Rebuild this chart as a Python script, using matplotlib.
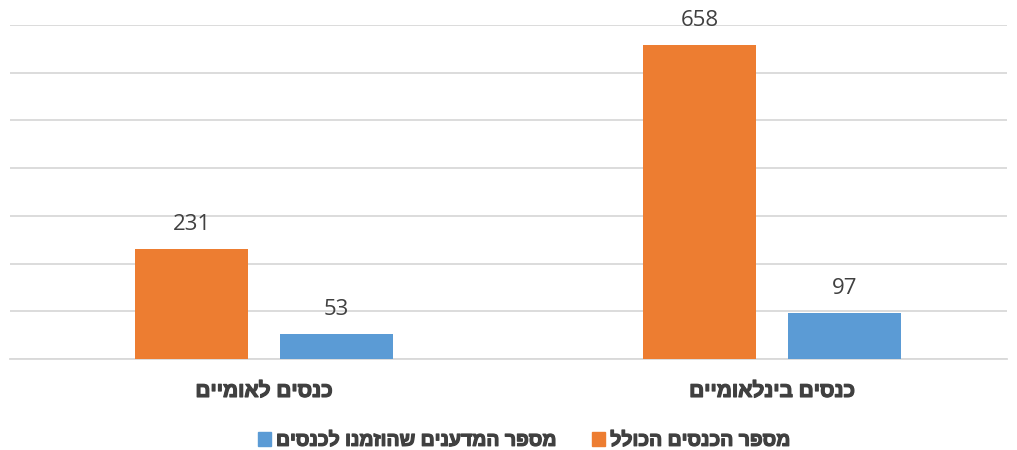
import numpy as np
import matplotlib
matplotlib.use("Agg")
import matplotlib.pyplot as plt
import matplotlib.patheffects as pe
from matplotlib.patches import Patch

categories = ["כנסים לאומיים", "כנסים בינלאומיים"]
series_names = ["מספר הכנסים הכולל", "מספר המדענים שהוזמנו לכנסים"]
total_confs = [231, 658]
invited = [53, 97]
colors = ["#ED7D31", "#5B9BD5"]


def vis(s):
    # matplotlib has no bidi support, so put Hebrew in visual order
    return s[::-1]


plt.rcParams["font.family"] = ["Liberation Sans", "DejaVu Sans"]
thick = [pe.withStroke(linewidth=0.9, foreground="#404040")]

fig = plt.figure(figsize=(10.17, 4.5), dpi=100)
W, H = 1017, 450
ax = fig.add_axes([10 / W, (H - 359) / H, (1007 - 10) / W, (359 - 25) / H])

x = np.arange(len(categories))
width = 0.222
off = 0.142
b1 = ax.bar(x - off, total_confs, width, color=colors[0], zorder=3)
b2 = ax.bar(x + off, invited, width, color=colors[1], zorder=3)

for bars in (b1, b2):
    for r in bars:
        ax.annotate(f"{int(r.get_height())}", (r.get_x() + r.get_width() / 2, r.get_height()),
                    xytext=(0, 10), textcoords="offset points", ha="center", va="bottom",
                    fontsize=16, color="#404040", family=["Open Sans"])

ax.set_ylim(0, 700)
ax.set_xlim(-0.5, 1.4626)
ax.set_yticks(np.arange(0, 701, 100))
ax.yaxis.grid(True, color="#D9D9D9", linewidth=1.3, zorder=0)
ax.tick_params(axis="y", left=False, labelleft=False)
ax.tick_params(axis="x", bottom=False, pad=13)
ax.set_xticks(x)
ax.set_xticklabels([vis(c) for c in categories], fontsize=15, fontweight="bold", color="#404040")
for t in ax.get_xticklabels():
    t.set_path_effects(thick)
for s in ax.spines.values():
    s.set_visible(False)
ax.axhline(0, color="#D9D9D9", linewidth=1.3, zorder=2, clip_on=False)

handles = [Patch(color=colors[1]), Patch(color=colors[0])]
labels = [vis(series_names[1]), vis(series_names[0])]
leg = fig.legend(handles, labels, loc="center", bbox_to_anchor=(524 / W, 1 - 441 / H), ncol=2,
                 frameon=False, handlelength=0.7, handleheight=0.7, handletextpad=0.25,
                 columnspacing=1.8, prop={"size": 14, "weight": "bold"}, labelcolor="#404040")
for t in leg.get_texts():
    t.set_path_effects(thick)

fig.savefig("out.png", dpi=100)
